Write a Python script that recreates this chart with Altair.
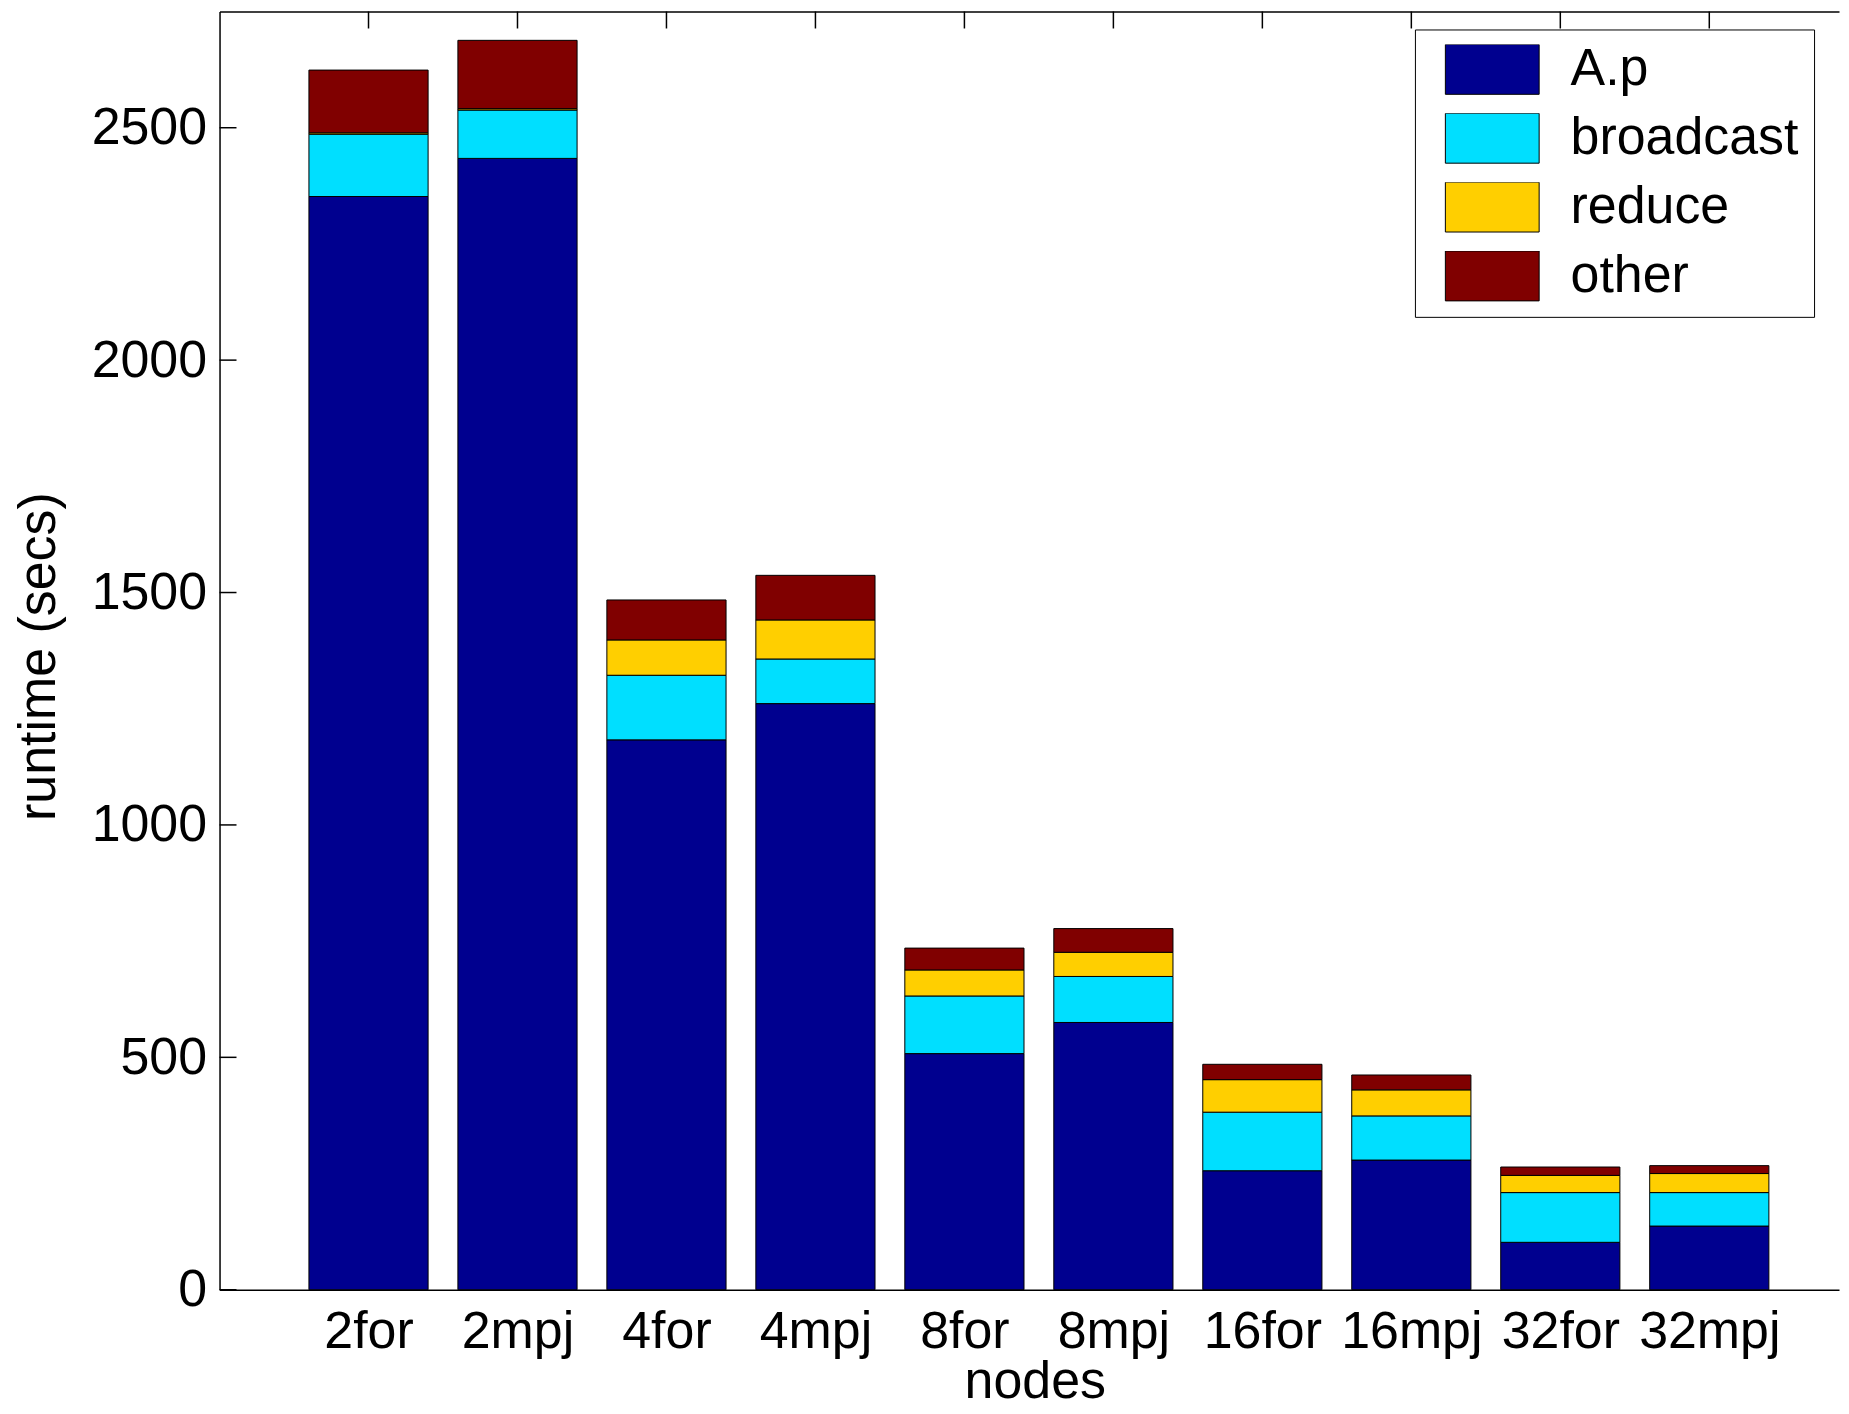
import json
import altair as alt
import pandas as pd

# ---- data ----
categories = ["2for", "2mpj", "4for", "4mpj", "8for", "8mpj", "16for", "16mpj", "32for", "32mpj"]
series = ["A.p", "broadcast", "reduce", "other"]
ap_vals = [2352, 2434, 1183, 1261, 508, 575, 256, 279, 102, 137]
broadcast_vals = [134, 104, 139, 96, 124, 99, 126, 95, 107, 72]
reduce_vals = [3, 3, 76, 84, 56, 52, 70, 56, 37, 41]
other_vals = [135, 147, 86, 96, 47, 51, 33, 32, 18, 17]
colors = ["#00008F", "#00DFFF", "#FFCF00", "#800000"]
y_ticks = [0, 500, 1000, 1500, 2000, 2500]
y_max = 2750

rows = []
for i, cat in enumerate(categories):
    for j, (s, vals) in enumerate(zip(series, [ap_vals, broadcast_vals, reduce_vals, other_vals])):
        rows.append({"cat": cat, "pos": i + 1, "series": s, "order": j, "value": vals[i]})
df = pd.DataFrame(rows)
pos_df = pd.DataFrame({"pos": list(range(1, len(categories) + 1))})
ytick_df = pd.DataFrame({"y0": y_ticks})

W, H = 1623, 1281
STEP = 149.3
FONT = "Liberation Sans"
FS = 52

xscale = alt.Scale(domain=[0, W / STEP], nice=False, zero=False)
yscale = alt.Scale(domain=[0, y_max], nice=False)
label_expr = json.dumps(categories) + "[datum.value - 1]"

x_axis = alt.Axis(
    orient="bottom",
    values=list(range(1, len(categories) + 1)), labelExpr=label_expr,
    ticks=False, tickSize=0, grid=False, labelPadding=58,
    labelBaseline="alphabetic", labelFontSize=FS, labelFont=FONT,
    labelColor="black", labelOverlap=False, labelFlush=False,
    title="nodes", titleFontSize=FS, titleFont=FONT, titleFontWeight="normal",
    titleColor="black", titleX=817, titleY=108, titleAlign="center",
    titleBaseline="alphabetic", domainColor="black", domainWidth=1.5,
)
y_axis = alt.Axis(
    orient="left",
    values=y_ticks, format="d", ticks=False, tickSize=0, grid=False,
    labelPadding=13, labelFontSize=FS, labelFont=FONT, labelColor="black",
    title="runtime (secs)", titleFontSize=FS, titleFont=FONT,
    titleFontWeight="normal", titleColor="black", titleX=-165, titleY=646,
    titleAngle=270, titleAlign="center", titleBaseline="alphabetic",
    domainColor="black", domainWidth=1.5,
)
top_axis = alt.Axis(
    orient="top", labels=False, ticks=False, tickSize=0, grid=False,
    title=None, domainColor="black", domainWidth=1.5,
)

bars = (
    alt.Chart(df)
    .transform_stack(
        stack="value", groupby=["cat"], as_=["y0", "y1"],
        sort=[alt.SortField(field="order", order="ascending")],
    )
    .transform_calculate(x0="datum.pos - 0.4", x1="datum.pos + 0.4")
    .mark_rect(stroke="black", strokeWidth=1)
    .encode(
        x=alt.X("x0:Q", scale=xscale, axis=x_axis),
        x2="x1:Q",
        y=alt.Y("y0:Q", scale=yscale, axis=y_axis),
        y2="y1:Q",
        color=alt.Color(
            "series:N",
            scale=alt.Scale(domain=series, range=colors),
            legend=alt.Legend(
                title=None, orient="none", legendX=1198, legendY=18,
                padding=15, fillColor="white", strokeColor="black",
                symbolType="M-0.758,-0.403H0.758V0.403H-0.758Z", symbolSize=15376,
                symbolStrokeColor="black", symbolStrokeWidth=1, symbolOpacity=1,
                clipHeight=50, rowPadding=17, labelOffset=16,
                labelFontSize=FS, labelFont=FONT, labelColor="black", labelLimit=600,
            ),
        ),
        order=alt.Order("order:Q"),
    )
)

top_ticks = alt.Chart(pos_df).mark_rule(color="black", strokeWidth=1.5).encode(
    x=alt.X("pos:Q", scale=xscale, axis=top_axis),
    y=alt.value(0),
    y2=alt.value(17),
)

left_ticks = alt.Chart(ytick_df).mark_rule(color="black", strokeWidth=1.5).encode(
    y=alt.Y("y0:Q", scale=yscale, axis=y_axis),
    x=alt.value(0),
    x2=alt.value(17),
)

chart = (
    alt.layer(bars, top_ticks, left_ticks)
    .properties(
        width=W, height=H,
        autosize=alt.AutoSizeParams(type="none"),
        padding={"left": 212, "top": 2, "right": 2, "bottom": 119},
        background="white",
    )
    .configure_view(strokeOpacity=0)
)

chart.save("out.html", embed_options={"renderer": "svg", "actions": False})
